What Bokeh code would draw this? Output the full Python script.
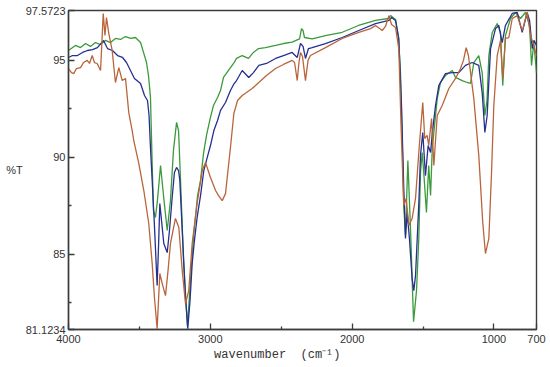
from bokeh.plotting import figure
from bokeh.models import Range1d, FixedTicker
from bokeh.embed import file_html
from bokeh.resources import INLINE

# ---- data (wavenumber cm^-1, %T) ----
green_wn = [4000, 3951, 3915, 3880, 3845, 3810, 3774, 3739, 3704, 3669, 3633, 3598, 3563, 3528, 3492,
            3471, 3450, 3436, 3422, 3410, 3401, 3387, 3373, 3351, 3330, 3304, 3281, 3260, 3238, 3224,
            3210, 3189, 3161, 3140, 3119, 3090, 3069, 3048, 3027, 2999, 2978, 2949, 2928, 2907, 2872,
            2836, 2815, 2775, 2731, 2696, 2660, 2611, 2540, 2484, 2423, 2371, 2357, 2346, 2336, 2282,
            2188, 2070, 1955, 1835, 1744, 1729, 1694, 1673, 1659, 1647, 1636, 1624, 1607, 1588, 1567,
            1546, 1530, 1518, 1506, 1495, 1476, 1460, 1447, 1435, 1419, 1400, 1377, 1342, 1294, 1271,
            1224, 1189, 1165, 1142, 1107, 1083, 1064, 1049, 1036, 1012, 977, 954, 938, 919, 883,
            848, 813, 778, 749, 735, 719, 700]
green_t = [95.51, 95.77, 95.66, 95.87, 95.72, 95.92, 95.82, 96.03, 95.92, 96.13, 96.08, 96.23, 96.13, 96.18, 95.92,
           95.41, 94.89, 94.22, 93.09, 89.68, 87.26, 86.90, 87.77, 89.58, 88.03, 86.23, 87.77, 90.35, 91.80, 91.38,
           88.81, 84.68, 81.28, 83.65, 85.87, 88.03, 88.81, 90.20, 91.13, 92.06, 92.67, 93.09, 93.45, 94.12, 94.48,
           94.84, 95.10, 95.25, 95.10, 95.41, 95.61, 95.66, 95.77, 95.87, 95.94, 96.11, 96.64, 96.54, 96.18, 96.11,
           96.28, 96.45, 96.80, 97.06, 97.16, 97.31, 97.11, 96.13, 94.37, 90.97, 87.52, 85.97, 89.84, 86.23, 81.53,
           83.13, 85.82, 89.22, 90.25, 89.22, 87.16, 89.58, 88.03, 90.46, 91.64, 93.03, 93.86, 94.22, 94.48, 94.12,
           93.96, 93.86, 93.81, 94.89, 95.25, 94.37, 92.16, 92.93, 95.25, 96.44, 96.90, 96.44, 93.70, 96.28, 97.16,
           97.47, 97.16, 97.47, 96.80, 94.74, 95.92, 94.37]

blue_wn = [4000, 3972, 3937, 3901, 3866, 3831, 3796, 3753, 3725, 3690, 3654, 3619, 3591, 3563, 3535,
           3492, 3464, 3443, 3432, 3422, 3410, 3394, 3375, 3365, 3356, 3344, 3328, 3304, 3288, 3269,
           3253, 3238, 3224, 3215, 3198, 3175, 3159, 3143, 3128, 3112, 3093, 3069, 3046, 3022, 2999,
           2975, 2949, 2928, 2893, 2858, 2836, 2815, 2775, 2729, 2696, 2658, 2604, 2540, 2484, 2423,
           2387, 2364, 2346, 2329, 2308, 2282, 2188, 2070, 1953, 1835, 1741, 1722, 1694, 1671, 1652,
           1636, 1624, 1612, 1596, 1577, 1565, 1553, 1541, 1529, 1518, 1502, 1483, 1464, 1447, 1433,
           1412, 1389, 1342, 1294, 1248, 1201, 1154, 1107, 1083, 1064, 1048, 1024, 989, 966, 942,
           919, 871, 836, 801, 766, 749, 730, 718, 700]
blue_t = [95.15, 95.25, 95.25, 95.41, 95.51, 95.56, 95.66, 96.03, 95.61, 95.51, 95.25, 95.15, 94.89, 94.48, 94.07,
          93.81, 93.19, 92.93, 92.16, 90.51, 88.81, 86.48, 83.39, 85.45, 87.62, 86.74, 85.56, 85.09, 86.23, 87.93,
          89.22, 89.48, 89.32, 88.81, 86.23, 82.77, 81.17, 82.62, 84.52, 85.71, 86.90, 88.03, 89.32, 89.99, 90.61,
          91.38, 91.90, 92.42, 92.83, 93.45, 93.76, 93.96, 94.48, 94.12, 94.37, 94.74, 94.84, 95.10, 95.25, 95.41,
          95.15, 95.87, 95.72, 95.10, 95.61, 95.66, 95.87, 96.18, 96.54, 96.90, 97.06, 97.21, 97.06, 96.13, 92.67,
          88.39, 85.82, 87.16, 85.82, 83.75, 83.13, 83.91, 85.82, 87.77, 90.10, 91.28, 89.06, 90.61, 90.25, 91.38,
          92.67, 93.70, 94.32, 94.37, 94.37, 94.74, 94.89, 94.74, 93.34, 91.28, 92.16, 95.61, 96.64, 96.80, 95.92,
          96.80, 97.42, 97.47, 96.44, 97.47, 97.06, 95.61, 96.03, 95.77]

brown_wn = [4000, 3979, 3963, 3944, 3915, 3894, 3868, 3852, 3833, 3817, 3798, 3781, 3774, 3755, 3743,
            3732, 3716, 3692, 3669, 3645, 3621, 3598, 3575, 3551, 3540, 3504, 3469, 3434, 3410, 3394,
            3375, 3356, 3339, 3316, 3298, 3281, 3246, 3222, 3198, 3175, 3152, 3128, 3093, 3057, 3034,
            2999, 2963, 2942, 2916, 2893, 2858, 2834, 2808, 2775, 2745, 2705, 2658, 2604, 2540, 2484,
            2423, 2406, 2387, 2375, 2364, 2350, 2329, 2311, 2294, 2188, 2070, 1953, 1870, 1835, 1788,
            1765, 1741, 1722, 1694, 1671, 1654, 1636, 1619, 1600, 1577, 1553, 1530, 1511, 1502, 1488,
            1471, 1460, 1440, 1424, 1400, 1365, 1318, 1271, 1236, 1215, 1196, 1180, 1165, 1142, 1107,
            1079, 1060, 1036, 1017, 1001, 977, 954, 938, 919, 895, 871, 836, 813, 799, 766,
            742, 719, 700]
brown_t = [94.58, 94.37, 94.32, 94.58, 94.63, 94.89, 95.00, 94.84, 95.25, 94.89, 94.84, 94.58, 94.48, 97.42, 96.28,
           97.21, 96.39, 95.51, 93.86, 94.63, 93.96, 94.07, 92.31, 91.38, 90.87, 89.68, 88.29, 86.59, 84.53, 82.77,
           81.17, 84.01, 83.49, 82.87, 84.17, 85.56, 86.85, 86.38, 84.17, 82.46, 83.13, 85.56, 87.62, 89.32, 89.74,
           88.96, 88.29, 88.03, 87.77, 88.13, 90.51, 92.26, 92.93, 93.19, 93.34, 93.55, 93.86, 94.22, 94.58, 94.79,
           95.00, 94.89, 93.96, 94.89, 95.41, 95.20, 93.96, 95.00, 95.25, 95.66, 96.13, 96.44, 96.64, 96.80, 96.54,
           96.75, 97.31, 96.85, 96.70, 95.61, 91.38, 87.52, 87.88, 86.49, 86.85, 87.88, 90.25, 92.00, 92.83, 90.97,
           91.13, 90.61, 92.00, 89.58, 92.16, 92.67, 93.55, 94.07, 94.58, 95.00, 95.66, 95.25, 94.37, 93.03, 90.10,
           86.64, 85.04, 85.82, 89.22, 92.67, 95.25, 96.03, 94.07, 96.13, 96.18, 97.16, 97.31, 96.80, 96.54, 97.47,
           96.28, 95.77, 95.25]

x_ticks = [4000, 3000, 2000, 1000, 700]
x_minor = [3500, 2500, 1500]
y_ticks = [81.1234, 85, 90, 95, 97.5723]
y_minor = [82.5, 87.5, 92.5]
y_tick_labels = ["81.1234", "85", "90", "95", "97.5723"]
x_title = "wavenumber\u00a0\u00a0(cm\u207b\u00b9)" + "\u00a0" * 7
y_title = "%T"

# ---- figure ----
p = figure(width=550, height=367, output_backend="svg", toolbar_location=None,
           x_range=Range1d(4000, 700), y_range=Range1d(81.1234, 97.5723),
           min_border_left=68, min_border_right=14, min_border_top=10, min_border_bottom=38)
p.xgrid.visible = False
p.ygrid.visible = False
p.outline_line_color = "#3c3c3c"
p.outline_line_width = 1.4
p.background_fill_color = "white"
p.border_fill_color = "white"

p.line(green_wn, green_t, line_color="#3b9a3b", line_width=1.3)
p.line(blue_wn, blue_t, line_color="#26308f", line_width=1.3)
p.line(brown_wn, brown_t, line_color="#b8653c", line_width=1.3)

p.xaxis.ticker = FixedTicker(ticks=x_ticks, minor_ticks=x_minor)
p.yaxis.ticker = FixedTicker(ticks=y_ticks, minor_ticks=y_minor)
p.xaxis.major_label_overrides = {t: str(t) for t in x_ticks}
p.yaxis.major_label_overrides = {t: s for t, s in zip(y_ticks, y_tick_labels)}

for ax in (p.xaxis[0], p.yaxis[0]):
    ax.axis_line_color = "#3c3c3c"
    ax.axis_line_width = 1.4
    ax.major_tick_in = 6
    ax.major_tick_out = 0
    ax.minor_tick_in = 3
    ax.minor_tick_out = 0
    ax.major_tick_line_color = "#3c3c3c"
    ax.minor_tick_line_color = "#3c3c3c"
    ax.major_tick_line_width = 1.3
    ax.minor_tick_line_width = 1.3
    ax.major_label_text_font = "Liberation Sans"
    ax.major_label_text_font_size = "11px"
    ax.major_label_text_color = "#333333"

p.xaxis[0].major_label_standoff = 5
p.yaxis[0].major_label_standoff = 3

xa = p.xaxis[0]
xa.axis_label = x_title
xa.axis_label_text_font = "Liberation Mono"
xa.axis_label_text_font_size = "12px"
xa.axis_label_text_font_style = "normal"
xa.axis_label_text_color = "#333333"
xa.axis_label_standoff = 2

ya = p.yaxis[0]
ya.axis_label = y_title
ya.axis_label_orientation = "horizontal"
ya.axis_label_text_font = "Liberation Sans"
ya.axis_label_text_font_size = "11px"
ya.axis_label_text_font_style = "normal"
ya.axis_label_text_color = "#333333"
ya.axis_label_standoff = 0

open("out.html", "w").write(file_html(p, INLINE))
